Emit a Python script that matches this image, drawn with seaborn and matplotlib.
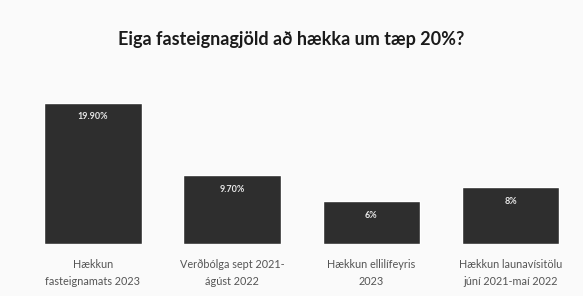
import matplotlib
matplotlib.use("Agg")
import matplotlib.pyplot as plt
import seaborn as sns
import pandas as pd

# data
categories = ["Hækkun\nfasteignamats 2023",
              "Verðbólga sept 2021-\nágúst 2022",
              "Hækkun ellilífeyris\n2023",
              "Hækkun launavísitölu\njúní 2021-maí 2022"]
values = [19.9, 9.7, 6, 8]
value_labels = ["19.90%", "9.70%", "6%", "8%"]
title = "Eiga fasteignagjöld að hækka um tæp 20%?"

sns.set_theme(style="white")
plt.rcParams['font.family'] = ['Lato', 'DejaVu Sans']

df = pd.DataFrame({"cat": categories, "val": values})

fig = plt.figure(figsize=(5.83, 2.96), dpi=100)
fig.patch.set_facecolor("#fafafa")
ax = fig.add_axes([0.04, 0.176, 0.955, 0.588])
ax.set_facecolor("#fafafa")

sns.barplot(data=df, x="cat", y="val", color="#2e2e2e", width=0.70,
            saturation=1, ax=ax)

ax.set_ylim(0, 24.54)
for i, (v, lab) in enumerate(zip(values, value_labels)):
    ax.text(i, v - 2.0, lab, ha="center", va="center", color="#e8e8e8",
            fontsize=6.5, fontweight="bold")

ax.set_xlabel("")
ax.set_ylabel("")
ax.set_yticks([])
ax.tick_params(axis="x", length=0, pad=11, labelsize=7.8, labelcolor="#555555")
for t in ax.get_xticklabels():
    t.set_linespacing(1.7)
sns.despine(ax=ax, left=True, bottom=True)

fig.text(0.5, 0.865, title, ha="center", va="center", fontsize=13,
         fontweight="bold", color="#1a1a1a")

fig.savefig("out.png", dpi=100, facecolor=fig.get_facecolor())
